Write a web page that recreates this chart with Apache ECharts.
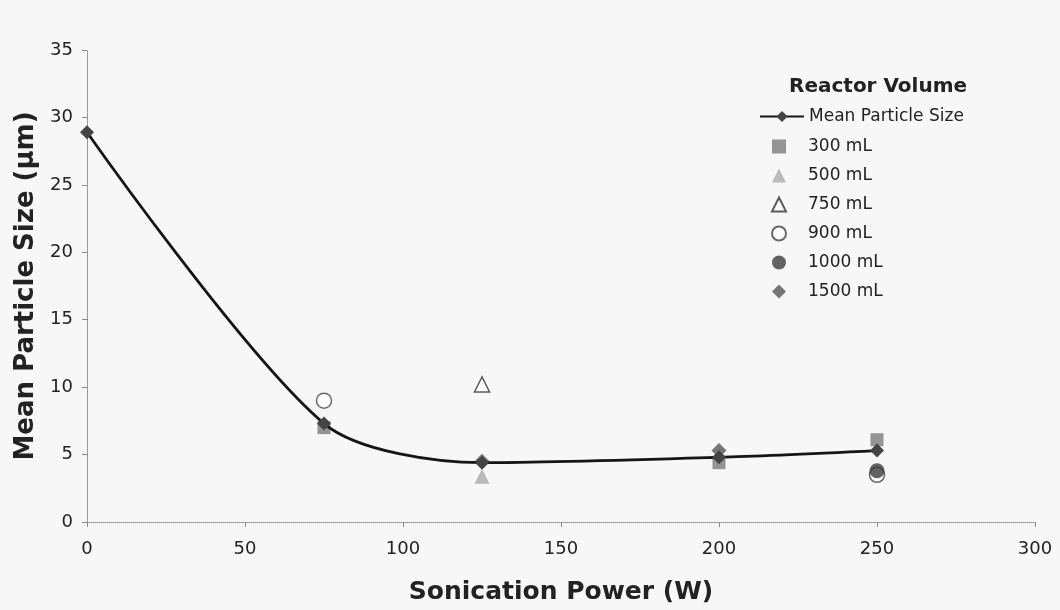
<!DOCTYPE html>
<html>
<head>
<meta charset="utf-8">
<script src="https://cdn.jsdelivr.net/npm/echarts@6/dist/echarts.min.js"></script>
<style>
  html, body { margin: 0; padding: 0; background: #f7f7f7; }
  #chart { width: 1060px; height: 610px; }
</style>
</head>
<body>
<div id="chart"></div>
<script>
  // 数据
  const xTicks = [0, 50, 100, 150, 200, 250, 300];
  const yTicks = [0, 5, 10, 15, 20, 25, 30, 35];

  const meanPower = [0, 75, 125, 200, 250];
  const meanSize = [28.9, 7.3, 4.4, 4.8, 5.3];

  const ml300 = [[75, 7.0], [200, 4.4], [250, 6.1]];
  const ml500 = [[125, 3.4]];
  const ml750 = [[125, 10.2]];
  const ml900 = [[75, 9.0], [250, 3.5]];
  const ml1000 = [[250, 3.8]];
  const ml1500 = [[125, 4.5], [200, 5.3]];

  const volumeNames = ['300 mL', '500 mL', '750 mL', '900 mL', '1000 mL', '1500 mL'];

  const font = 'DejaVu Sans';

  const chart = echarts.init(document.getElementById('chart'));

  function scatter(name, data, symbol, size, style) {
    return {
      name: name,
      type: 'scatter',
      data: data,
      symbol: symbol,
      symbolSize: size,
      itemStyle: style,
      z: 3,
    };
  }

  const legendText = { fontFamily: font, fontSize: 17, color: '#222' };

  const option = {
    backgroundColor: '#f7f7f7',
    animation: false,
    title: {
      text: 'Reactor Volume',
      left: 784,
      top: 72,
      textStyle: { fontFamily: font, fontWeight: 'bold', fontSize: 20, color: '#222' },
    },
    // 折线图例（较长的线段）+ 散点图例
    legend: [
      {
        orient: 'vertical',
        left: 754,
        top: 103,
        itemWidth: 44,
        itemHeight: 14,
        textStyle: legendText,
        data: ['Mean Particle Size'],
      },
      {
        orient: 'vertical',
        left: 766,
        top: 133,
        itemGap: 12,
        itemWidth: 14,
        itemHeight: 14,
        textStyle: Object.assign({ padding: [0, 0, 0, 17] }, legendText),
        data: volumeNames,
      },
    ],
    grid: { left: 87, right: 25, top: 50, bottom: 88 },
    xAxis: {
      type: 'value',
      min: xTicks[0],
      max: xTicks[xTicks.length - 1],
      interval: 50,
      name: 'Sonication Power (W)',
      nameLocation: 'middle',
      nameGap: 58,
      nameTextStyle: { fontFamily: font, fontWeight: 'bold', fontSize: 25, color: '#222' },
      axisLine: { lineStyle: { color: '#888', type: 'dotted' } },
      axisTick: { show: true, length: 5, lineStyle: { color: '#888' } },
      axisLabel: { fontFamily: font, fontSize: 18, color: '#222', margin: 18 },
      splitLine: { show: false },
    },
    yAxis: {
      type: 'value',
      min: yTicks[0],
      max: yTicks[yTicks.length - 1],
      interval: 5,
      name: 'Mean Particle Size (µm)',
      nameLocation: 'middle',
      nameGap: 41,
      nameTextStyle: { fontFamily: font, fontWeight: 'bold', fontSize: 26, color: '#222' },
      axisLine: { show: true, lineStyle: { color: '#888', type: 'dotted' } },
      axisTick: { show: true, length: 5, lineStyle: { color: '#888' } },
      axisLabel: { fontFamily: font, fontSize: 18, color: '#222', margin: 14 },
      splitLine: { show: false },
    },
    series: [
      {
        name: 'Mean Particle Size',
        type: 'line',
        data: meanPower.map((p, i) => [p, meanSize[i]]),
        smooth: 0.28,
        symbol: 'diamond',
        symbolSize: 14,
        lineStyle: { color: '#151515', width: 2.8 },
        itemStyle: { color: '#444' },
        z: 4,
      },
      scatter('300 mL', ml300, 'rect', 13, { color: '#7a7a7a' }),
      scatter('500 mL', ml500, 'triangle', 15, { color: '#aaaaaa' }),
      scatter('750 mL', ml750, 'triangle', 15, { color: '#ffffff', borderColor: '#333', borderWidth: 1.5 }),
      scatter('900 mL', ml900, 'circle', 15, { color: '#ffffff', borderColor: '#444', borderWidth: 1.5 }),
      scatter('1000 mL', ml1000, 'circle', 15, { color: '#3c3c3c' }),
      scatter('1500 mL', ml1500, 'diamond', 15, { color: '#555555' }),
    ],
  };

  chart.setOption(option);
</script>
</body>
</html>
